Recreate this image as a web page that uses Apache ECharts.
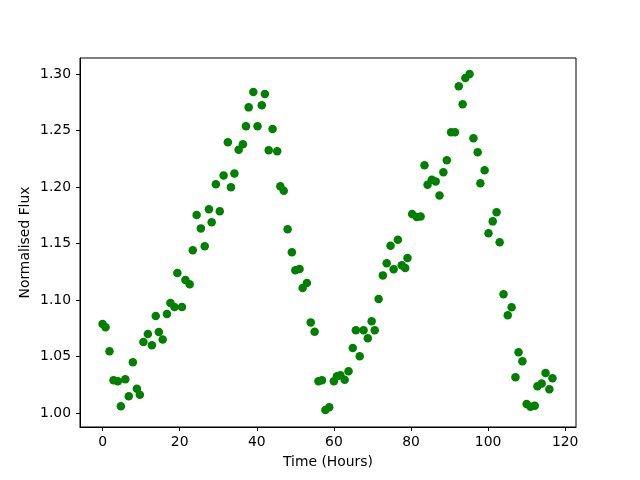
<!DOCTYPE html>
<html>
<head>
    <meta charset="UTF-8">
    <script src="https://cdn.jsdelivr.net/npm/echarts@6/dist/echarts.min.js"></script>
    <style>
        html, body { margin: 0; padding: 0; background: #ffffff; }
        #main { width: 640px; height: 480px; }
    </style>
</head>
<body>
<div id="main"></div>
<script type="text/javascript">
    // time of each observation (hours)
    var hours = [
        0, 0.78, 1.8, 2.85, 3.97, 4.75, 5.9, 6.8, 7.86, 8.9, 9.67, 10.6, 11.75, 12.8, 13.8, 14.6,
        15.6, 16.7, 17.6, 18.66, 19.4, 20.6, 21.5, 22.6, 23.4, 24.4, 25.5, 26.5, 27.6, 28.3, 29.4,
        30.4, 31.4, 32.5, 33.3, 34.2, 35.3, 36.4, 37.2, 37.9, 39.1, 40.2, 41.3, 42.1, 43.1, 44.1,
        45.3, 46.1, 47.0, 48.0, 49.1, 50.0, 51.1, 51.9, 53.0, 54.0, 55.0, 56.0, 56.9, 57.8, 58.8,
        60.0, 60.8, 61.7, 62.8, 63.8, 64.9, 65.7, 66.7, 67.7, 68.8, 69.8, 70.6, 71.6, 72.7, 73.7,
        74.7, 75.5, 76.6, 77.6, 78.5, 79.1, 80.3, 81.5, 82.5, 83.5, 84.3, 85.4, 86.4, 87.4, 88.4,
        89.3, 90.4, 91.4, 92.4, 93.4, 94.1, 95.2, 96.2, 97.3, 98.0, 99.1, 100.1, 101.2, 102.2,
        103.0, 104.0, 105.1, 106.1, 107.1, 107.9, 108.9, 110.0, 111.0, 112.1, 112.8, 113.9,
        114.9, 115.9, 116.7
    ];
    // normalised flux at each time
    var flux = [
        1.0788, 1.0758, 1.0546, 1.029, 1.028, 1.0059, 1.0298, 1.0148, 1.045, 1.0215, 1.0162, 1.0628,
        1.0699, 1.0599, 1.0858, 1.0717, 1.065, 1.0876, 1.0973, 1.0938, 1.1239, 1.0938, 1.1177, 1.1139,
        1.144, 1.1752, 1.1634, 1.1475, 1.1803, 1.1688, 1.2024, 1.1785, 1.2103, 1.2396, 1.1997, 1.212,
        1.233, 1.2378, 1.2537, 1.2705, 1.2841, 1.2537, 1.2723, 1.2823, 1.2325, 1.2513, 1.2316, 1.2006,
        1.1967, 1.1626, 1.1422, 1.1263, 1.1274, 1.1106, 1.115, 1.0802, 1.072, 1.028, 1.029, 1.0027,
        1.005, 1.028, 1.0325, 1.0334, 1.0295, 1.0369, 1.0575, 1.0732, 1.0502, 1.0732, 1.0661, 1.0811,
        1.0732, 1.1009, 1.1218, 1.1325, 1.1481, 1.1272, 1.1534, 1.1307, 1.1283, 1.1372, 1.1761, 1.1735,
        1.174, 1.2192, 1.2021, 1.2065, 1.205, 1.1926, 1.213, 1.2236, 1.2484, 1.2484, 1.2891, 1.2732,
        1.2965, 1.3, 1.2431, 1.2307, 1.2033, 1.2148, 1.159, 1.1696, 1.1776, 1.1511, 1.105, 1.0865,
        1.0935, 1.0316, 1.0537, 1.0457, 1.008, 1.0056, 1.0065, 1.0236, 1.026, 1.0354, 1.021, 1.0307
    ];
    var xTicks = [0, 20, 40, 60, 80, 100, 120];
    var yTicks = [1.00, 1.05, 1.10, 1.15, 1.20, 1.25, 1.30];

    var points = hours.map(function (h, i) {
        return [h, flux[i]];
    });

    var myChart = echarts.init(document.getElementById('main'), null, {renderer: 'canvas'});

    var labelStyle = {
        color: '#000000',
        fontFamily: 'DejaVu Sans',
        fontSize: 13.9
    };

    var option = {
        backgroundColor: '#ffffff',
        animation: false,
        grid: {
            left: 80,
            right: 64,
            top: 58,
            bottom: 53,
            show: true,
            borderColor: '#000000',
            borderWidth: 1,
            backgroundColor: 'transparent'
        },
        xAxis: {
            type: 'value',
            min: -5.85,
            max: 122.8,
            name: 'Time (Hours)',
            nameLocation: 'middle',
            nameGap: 28,
            nameMoveOverlap: false,
            nameTextStyle: labelStyle,
            splitLine: {show: false},
            axisLine: {show: true, onZero: false, lineStyle: {color: '#000000', width: 1}},
            axisTick: {
                show: true,
                length: 4,
                lineStyle: {color: '#000000'},
                customValues: xTicks
            },
            axisLabel: Object.assign({
                margin: 8,
                customValues: xTicks,
                formatter: function (v) { return String(v); }
            }, labelStyle)
        },
        yAxis: {
            type: 'value',
            min: 0.9876,
            max: 1.3142,
            name: 'Normalised Flux',
            nameLocation: 'middle',
            nameGap: 48,
            nameMoveOverlap: false,
            nameRotate: 90,
            nameTextStyle: labelStyle,
            splitLine: {show: false},
            axisLine: {show: true, onZero: false, lineStyle: {color: '#000000', width: 1}},
            axisTick: {
                show: true,
                length: 4,
                lineStyle: {color: '#000000'},
                customValues: yTicks
            },
            axisLabel: Object.assign({
                margin: 9,
                customValues: yTicks,
                formatter: function (v) { return v.toFixed(2); }
            }, labelStyle)
        },
        series: [
            {
                type: 'scatter',
                data: points,
                symbol: 'circle',
                symbolSize: 8.5,
                itemStyle: {color: '#008000', opacity: 1}
            }
        ]
    };

    myChart.setOption(option);
</script>
</body>
</html>
